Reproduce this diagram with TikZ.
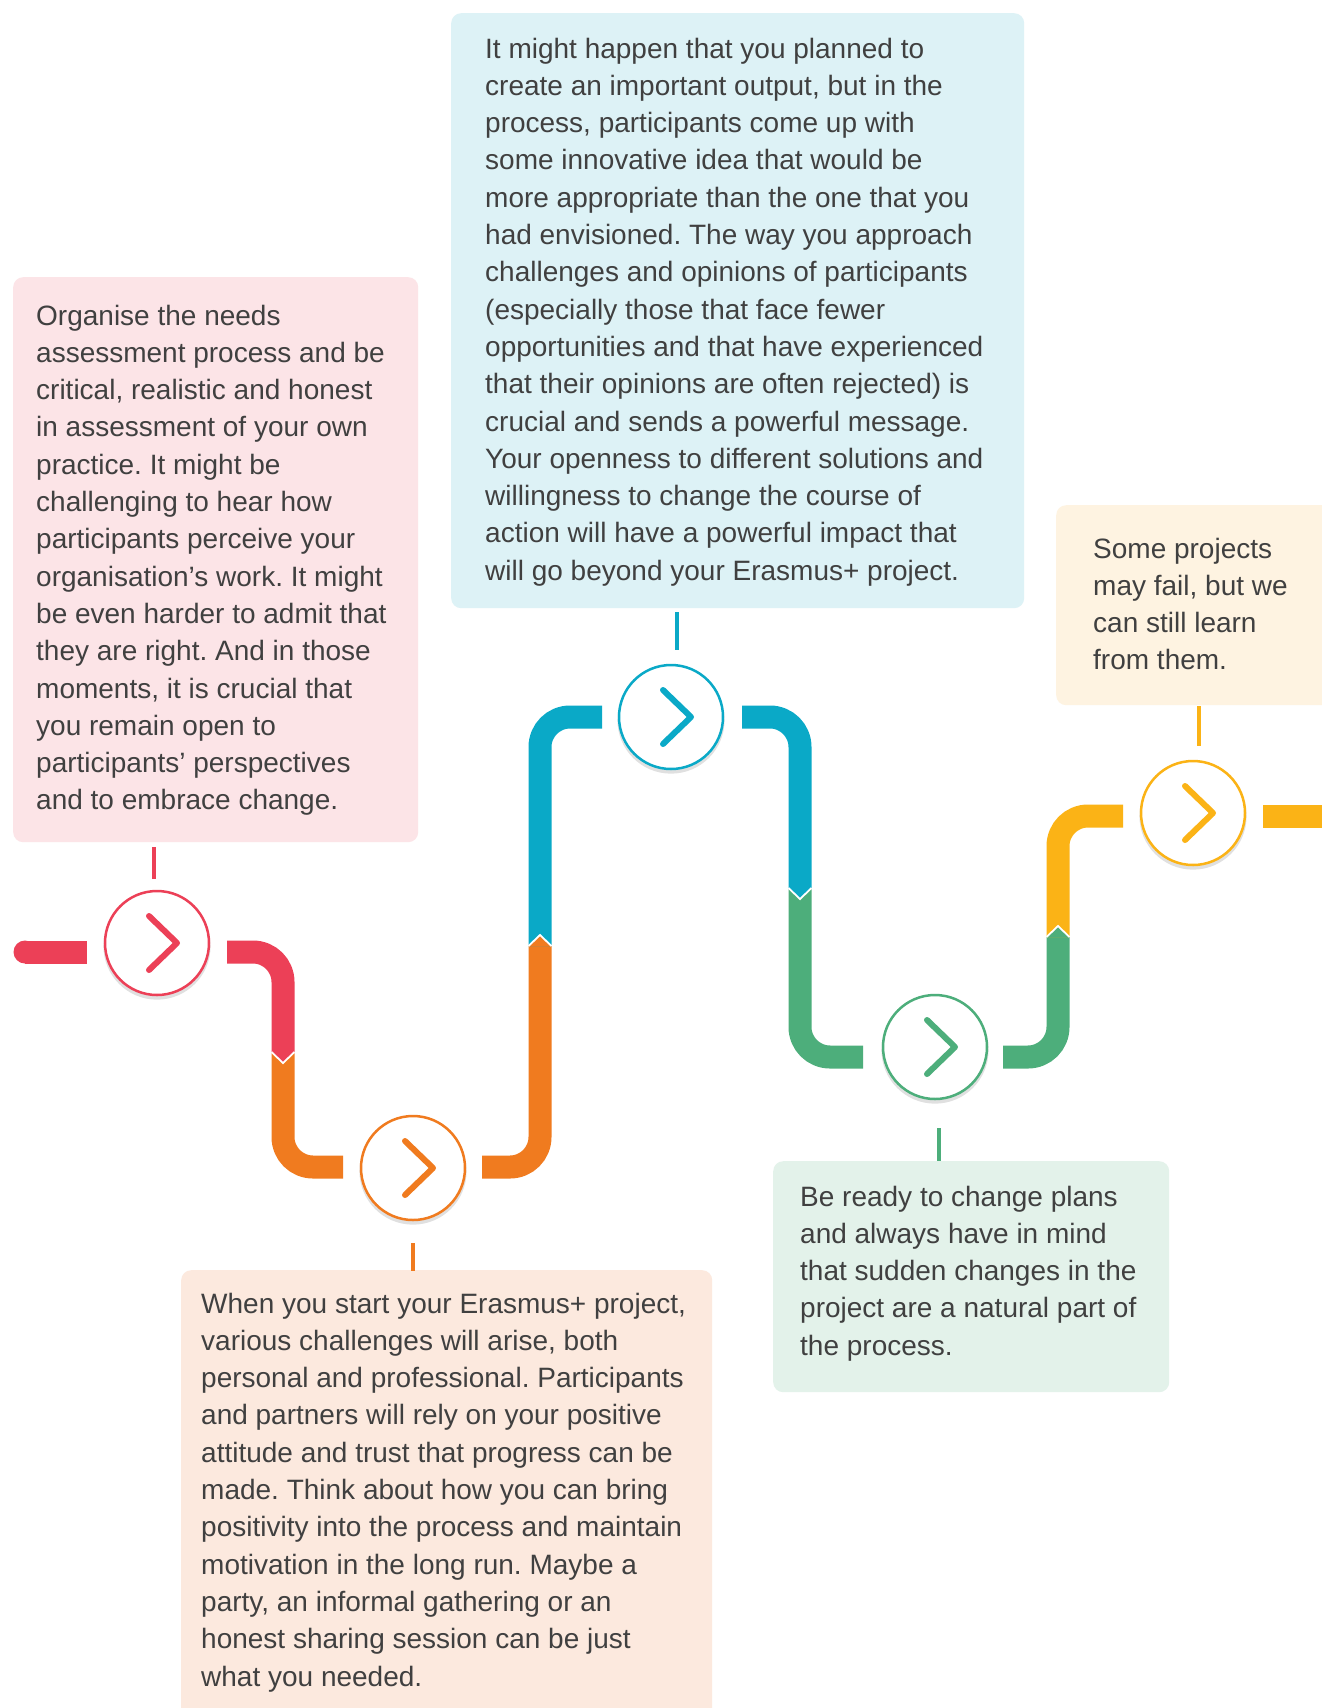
\documentclass[tikz,border=0pt]{standalone}
\usepackage{fontspec}
\setmainfont{Liberation Sans}
\usetikzlibrary{shadows}
\definecolor{cred}{HTML}{EC4057}
\definecolor{corange}{HTML}{F07B1F}
\definecolor{cblue}{HTML}{0AA9C7}
\definecolor{cgreen}{HTML}{4DAE7B}
\definecolor{cyellow}{HTML}{FBB316}
\definecolor{bpink}{HTML}{FCE4E7}
\definecolor{bblue}{HTML}{DDF2F6}
\definecolor{bcream}{HTML}{FEF3E1}
\definecolor{bgreen}{HTML}{E3F2EA}
\definecolor{bpeach}{HTML}{FCE9DE}
\definecolor{ctext}{HTML}{404040}
\newcommand\tline[1]{\hbox{#1}}
\frenchspacing
\begin{document}
\begin{tikzpicture}[x=1pt,y=-1pt,
  flow/.style={line width=23pt, line cap=butt, rounded corners=30pt},
  stepc/.style={circle, draw=#1, line width=2.5pt, fill=white, minimum size=104pt, inner sep=0pt,
    drop shadow={shadow xshift=0pt, shadow yshift=-3pt, shadow scale=1.03, opacity=0.12, fill=black}},
  chev/.style={line width=6pt, line cap=round, line join=round},
  box/.style={rectangle, rounded corners=10pt, anchor=north west, inner sep=0pt},
  txt/.style={anchor=base west, inner sep=0pt, text=ctext, font=\fontsize{28}{37.3}\selectfont\frenchspacing},
  tick/.style={line width=4pt}
]
\useasboundingbox (0,0) rectangle (1322,1708);
\fill[white] (0,0) rectangle (1322,1708);

% boxes
\node[box, fill=bpink,  minimum width=405pt, minimum height=565pt] (b1) at (13,277) {};
\node[box, fill=bblue,  minimum width=573pt, minimum height=595pt] (b2) at (451,13) {};
\node[box, fill=bpeach, minimum width=531pt, minimum height=470pt] (b3) at (181,1270) {};
\node[box, fill=bgreen, minimum width=396pt, minimum height=231pt] (b4) at (773,1161) {};
\node[box, fill=bcream, minimum width=300pt, minimum height=200pt] (b5) at (1056,505) {};

% texts
\node[txt] (t1) at (36,325) {\vtop{%
\tline{Organise the needs}
\tline{assessment process and be}
\tline{critical, realistic and honest}
\tline{in assessment of your own}
\tline{practice. It might be}
\tline{challenging to hear how}
\tline{participants perceive your}
\tline{organisation’s work. It might}
\tline{be even harder to admit that}
\tline{they are right. And in those}
\tline{moments, it is crucial that}
\tline{you remain open to}
\tline{participants’ perspectives}
\tline{and to embrace change.}}};

\node[txt] (t2) at (485,58) {\vtop{%
\tline{It might happen that you planned to}
\tline{create an important output, but in the}
\tline{process, participants come up with}
\tline{some innovative idea that would be}
\tline{more appropriate than the one that you}
\tline{had envisioned. The way you approach}
\tline{challenges and opinions of participants}
\tline{(especially those that face fewer}
\tline{opportunities and that have experienced}
\tline{that their opinions are often rejected) is}
\tline{crucial and sends a powerful message.}
\tline{Your openness to different solutions and}
\tline{willingness to change the course of}
\tline{action will have a powerful impact that}
\tline{will go beyond your Erasmus+ project.}}};

\node[txt] (t3) at (201,1313) {\vtop{%
\tline{When you start your Erasmus+ project,}
\tline{various challenges will arise, both}
\tline{personal and professional. Participants}
\tline{and partners will rely on your positive}
\tline{attitude and trust that progress can be}
\tline{made. Think about how you can bring}
\tline{positivity into the process and maintain}
\tline{motivation in the long run. Maybe a}
\tline{party, an informal gathering or an}
\tline{honest sharing session can be just}
\tline{what you needed.}}};

\node[txt] (t4) at (800,1206) {\vtop{%
\tline{Be ready to change plans}
\tline{and always have in mind}
\tline{that sudden changes in the}
\tline{project are a natural part of}
\tline{the process.}}};

\node[txt] (t5) at (1093,558) {\vtop{%
\tline{Some projects}
\tline{may fail, but we}
\tline{can still learn}
\tline{from them.}}};

% flow line coordinates
\coordinate (r0) at (25,952);
\coordinate (r1) at (87,952);
\coordinate (r2) at (227,952);
\coordinate (j1) at (283,1052);
\coordinate (o1) at (343,1167);
\coordinate (o2) at (482,1167);
\coordinate (j2) at (540,946);
\coordinate (u1) at (602,717);
\coordinate (u2) at (742,717);
\coordinate (j3) at (800,888);
\coordinate (g1) at (863,1057);
\coordinate (g2) at (1003,1057);
\coordinate (j4) at (1058,937);
\coordinate (y1) at (1123,816);
\coordinate (y2) at (1263,816);
\coordinate (y3) at (1330,816);

% flow segments
\fill[cred] (r0) circle (11.5pt);
\draw[flow,cred] (r0) -- (r1);
\draw[flow,cred] (r2) -| (j1);
\draw[flow,corange] (j1) |- (o1);
\draw[flow,corange] (o2) -| (j2);
\draw[flow,cblue] (j2) |- (u1);
\draw[flow,cblue] (u2) -| (j3);
\draw[flow,cgreen] (j3) |- (g1);
\draw[flow,cgreen] (g2) -| (j4);
\draw[flow,cyellow] (j4) |- (y1);
\draw[flow,cyellow] (y2) -- (y3);

% chevron joints
\fill[cred] ([shift={(-11.5,0)}]j1) -- ([shift={(11.5,0)}]j1) -- ([shift={(0,11)}]j1) -- cycle;
\draw[white,line width=1.8pt] ([shift={(-11.5,0)}]j1) -- ([shift={(0,11)}]j1) -- ([shift={(11.5,0)}]j1);
\fill[corange] ([shift={(-11.5,0)}]j2) -- ([shift={(11.5,0)}]j2) -- ([shift={(0,-11)}]j2) -- cycle;
\draw[white,line width=1.8pt] ([shift={(-11.5,0)}]j2) -- ([shift={(0,-11)}]j2) -- ([shift={(11.5,0)}]j2);
\fill[cblue] ([shift={(-11.5,0)}]j3) -- ([shift={(11.5,0)}]j3) -- ([shift={(0,11)}]j3) -- cycle;
\draw[white,line width=1.8pt] ([shift={(-11.5,0)}]j3) -- ([shift={(0,11)}]j3) -- ([shift={(11.5,0)}]j3);
\fill[cgreen] ([shift={(-11.5,0)}]j4) -- ([shift={(11.5,0)}]j4) -- ([shift={(0,-11)}]j4) -- cycle;
\draw[white,line width=1.8pt] ([shift={(-11.5,0)}]j4) -- ([shift={(0,-11)}]j4) -- ([shift={(11.5,0)}]j4);

% step circles
\node[stepc=cred]    (c1) at (157,943) {};
\node[stepc=corange] (c2) at (413,1168) {};
\node[stepc=cblue]   (c3) at (671,717) {};
\node[stepc=cgreen]  (c4) at (935,1047) {};
\node[stepc=cyellow] (c5) at (1193,813) {};

\foreach \c/\col in {c1/cred, c2/corange, c3/cblue, c4/cgreen, c5/cyellow}{
  \draw[chev,\col] ([shift={(-8,-27)}]\c.center) -- ([shift={(20,0)}]\c.center) -- ([shift={(-8,27)}]\c.center);
}

% ticks
\draw[tick,cred]    ([shift={(-3,-11)}]c1.north) -- ([shift={(-3,-43)}]c1.north);
\draw[tick,cblue]   ([shift={(6,-14)}]c3.north) -- ([shift={(6,-52)}]c3.north);
\draw[tick,cyellow] ([shift={(6,-14)}]c5.north) -- ([shift={(6,-54)}]c5.north);
\draw[tick,corange] ([shift={(0,22)}]c2.south) -- ([shift={(0,50)}]c2.south);
\draw[tick,cgreen]  ([shift={(4,28)}]c4.south) -- ([shift={(4,61)}]c4.south);
\end{tikzpicture}
\end{document}
